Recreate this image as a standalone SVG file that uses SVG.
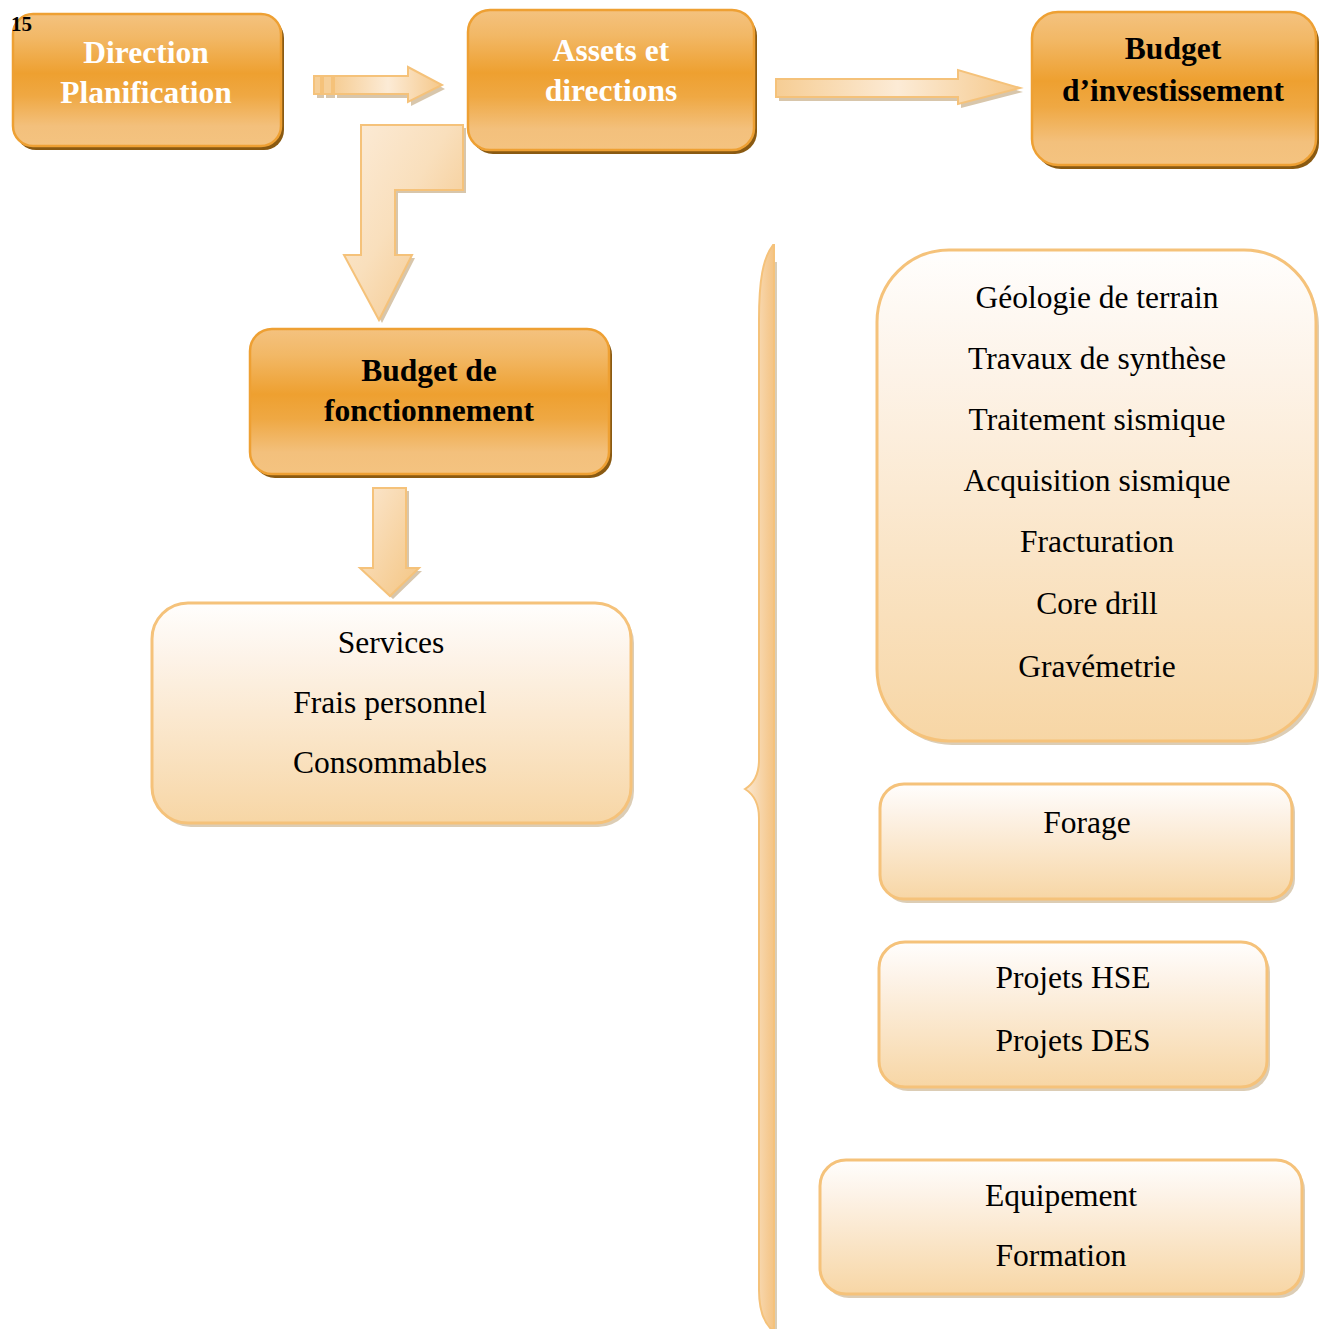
<svg xmlns="http://www.w3.org/2000/svg" width="1325" height="1329" viewBox="0 0 1325 1329">
<defs>
<linearGradient id="gOr" x1="0" y1="0" x2="0" y2="1">
<stop offset="0" stop-color="#f4c27f"/>
<stop offset="0.18" stop-color="#f2b866"/>
<stop offset="0.45" stop-color="#eea030"/>
<stop offset="0.62" stop-color="#efa843"/>
<stop offset="0.85" stop-color="#f3c07c"/>
<stop offset="1" stop-color="#f4c380"/>
</linearGradient>
<linearGradient id="gLt" x1="0" y1="0" x2="0" y2="1">
<stop offset="0" stop-color="#fffefd"/>
<stop offset="0.25" stop-color="#fdf3e8"/>
<stop offset="1" stop-color="#f7d6a5"/>
</linearGradient>
<linearGradient id="gArH" x1="0" y1="0" x2="1" y2="0">
<stop offset="0" stop-color="#f6cd94"/>
<stop offset="0.5" stop-color="#fcebd6"/>
<stop offset="1" stop-color="#f5c88a"/>
</linearGradient>
<linearGradient id="gBent" x1="0" y1="0" x2="1" y2="1">
<stop offset="0" stop-color="#fcecd9"/>
<stop offset="0.45" stop-color="#f9dfbc"/>
<stop offset="1" stop-color="#f3c07c"/>
</linearGradient>
<linearGradient id="gDown" x1="0" y1="0" x2="1" y2="1">
<stop offset="0" stop-color="#fbe7cf"/>
<stop offset="1" stop-color="#f4c582"/>
</linearGradient>
<linearGradient id="gBrace" x1="0" y1="0" x2="1" y2="0">
<stop offset="0" stop-color="#fbe9d4"/>
<stop offset="1" stop-color="#f4c383"/>
</linearGradient>
</defs>
<style>
.or{fill:url(#gOr);stroke:#eea033;stroke-width:2.5}
.orSh{fill:#8a5a12}
.lt{fill:url(#gLt);stroke:#f5c27a;stroke-width:3}
.ltSh{fill:#dccdb5}
.arSh{fill:#d8c6ab}
.ar{stroke:#f5c27a;stroke-width:2}
.tw{font-family:"Liberation Serif",serif;font-weight:bold;font-size:31.5px;fill:#ffffff;text-anchor:middle}
.tb{font-family:"Liberation Serif",serif;font-weight:bold;font-size:31.5px;fill:#000000;text-anchor:middle}
.tr{font-family:"Liberation Serif",serif;font-size:31.5px;fill:#000000;text-anchor:middle}
</style>
<rect width="1325" height="1329" fill="#ffffff"/>

<g id="connectors">
<g id="arrow1">
<path class="arSh" d="M337,80 L411,80 L411,71 L445,89 L411,106 L411,98 L337,98 Z"/>
<rect class="arSh" x="317" y="80" width="7" height="18"/>
<rect class="arSh" x="326" y="80" width="9" height="18"/>
<path class="ar" fill="url(#gArH)" d="M334,76 L408,76 L408,67 L442,85 L408,102 L408,94 L334,94 Z"/>
<rect class="ar" fill="#f6cf98" x="314" y="76" width="7" height="18"/>
<rect class="ar" fill="#f6cf98" x="323" y="76" width="9" height="18"/>
</g>
<g id="arrow2">
<path class="arSh" d="M779,83 L961,83 L961,74 L1023,92 L961,108 L961,101 L779,101 Z"/>
<path class="ar" fill="url(#gArH)" d="M776,79 L958,79 L958,70 L1020,88 L958,104 L958,97 L776,97 Z"/>
</g>
<g id="arrow3">
<path class="arSh" d="M364,128 L466,128 L466,193 L398,193 L398,258 L415,258 L382,323 L347,258 L364,258 Z"/>
<path class="ar" fill="url(#gBent)" d="M361,125 L463,125 L463,190 L395,190 L395,255 L412,255 L379,320 L344,255 L361,255 Z"/>
</g>
<g id="arrow4">
<path class="arSh" d="M376,491 L409,491 L409,571 L422,571 L393,599 L363,571 L376,571 Z"/>
<path class="ar" fill="url(#gDown)" d="M373,488 L406,488 L406,568 L419,568 L390,596 L360,568 L373,568 Z"/>
</g>
<g id="brace">
<rect x="774" y="262" width="3" height="1067" fill="#d8cdb8"/>
<path fill="url(#gBrace)" stroke="#f5c27a" stroke-width="2" d="M773,245 C763,258 759,280 759,320 L759,760 C759,775 753,784 745,789 C753,794 759,803 759,818 L759,1290 C759,1310 764,1322 771,1329 L774,1329 L774,245 Z"/>
</g>
</g>

<g id="n-direction">
<rect class="orSh" x="16" y="18" width="268" height="132" rx="20"/>
<rect class="or" x="13" y="14" width="268" height="132" rx="20"/>
<text class="tw" x="146" y="63">Direction</text>
<text class="tw" x="146" y="103">Planification</text>
<text x="11" y="31" font-family="'Liberation Serif',serif" font-weight="bold" font-size="21" fill="#000">15</text>
</g>

<g id="n-assets">
<rect class="orSh" x="471" y="14" width="286" height="140" rx="22"/>
<rect class="or" x="468" y="10" width="286" height="140" rx="22"/>
<text class="tw" x="611" y="61">Assets et</text>
<text class="tw" x="611" y="101">directions</text>
</g>

<g id="n-invest">
<rect class="orSh" x="1035" y="16" width="284" height="153" rx="26"/>
<rect class="or" x="1032" y="12" width="284" height="153" rx="26"/>
<text class="tb" x="1173" y="59">Budget</text>
<text class="tb" x="1173" y="101">d’investissement</text>
</g>

<g id="n-fonct">
<rect class="orSh" x="253" y="333" width="359" height="145" rx="22"/>
<rect class="or" x="250" y="329" width="359" height="145" rx="22"/>
<text class="tb" x="429" y="381">Budget de</text>
<text class="tb" x="429" y="421">fonctionnement</text>
</g>

<g id="n-services">
<rect class="ltSh" x="155" y="607" width="479" height="220" rx="36"/>
<rect class="lt" x="152" y="603" width="479" height="220" rx="36"/>
<text class="tr" x="391" y="653">Services</text>
<text class="tr" x="390" y="713">Frais personnel</text>
<text class="tr" x="390" y="773">Consommables</text>
</g>

<g id="n-geologie">
<rect class="ltSh" x="880" y="254" width="439" height="491" rx="72"/>
<rect class="lt" x="877" y="250" width="439" height="491" rx="72"/>
<text class="tr" x="1097" y="308">Géologie de terrain</text>
<text class="tr" x="1097" y="369">Travaux de synthèse</text>
<text class="tr" x="1097" y="430">Traitement sismique</text>
<text class="tr" x="1097" y="491">Acquisition sismique</text>
<text class="tr" x="1097" y="552">Fracturation</text>
<text class="tr" x="1097" y="614">Core drill</text>
<text class="tr" x="1097" y="677">Gravémetrie</text>
</g>

<g id="n-forage">
<rect class="ltSh" x="883" y="788" width="412" height="115" rx="24"/>
<rect class="lt" x="880" y="784" width="412" height="115" rx="24"/>
<text class="tr" x="1087" y="833">Forage</text>
</g>

<g id="n-projets">
<rect class="ltSh" x="882" y="946" width="388" height="145" rx="26"/>
<rect class="lt" x="879" y="942" width="388" height="145" rx="26"/>
<text class="tr" x="1073" y="988">Projets HSE</text>
<text class="tr" x="1073" y="1051">Projets DES</text>
</g>

<g id="n-equipement">
<rect class="ltSh" x="823" y="1164" width="482" height="134" rx="26"/>
<rect class="lt" x="820" y="1160" width="482" height="134" rx="26"/>
<text class="tr" x="1061" y="1206">Equipement</text>
<text class="tr" x="1061" y="1266">Formation</text>
</g>
</svg>
